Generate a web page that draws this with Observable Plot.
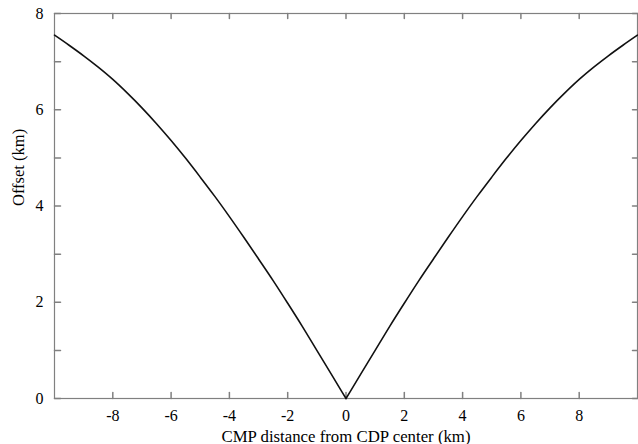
<!DOCTYPE html>
<html>
<head>
<meta charset="utf-8">
<script src="https://cdn.jsdelivr.net/npm/d3@7"></script>
<script src="https://cdn.jsdelivr.net/npm/@observablehq/plot@0.6"></script>
<style>
  html, body { margin: 0; padding: 0; background: #fff; }
</style>
</head>
<body>
<div id="chart"></div>
<script>
// CMP distance from CDP center (km)
const cmpDistance = [-10, -9.5, -9, -8.5, -8, -7.5, -7, -6.5, -6, -5.5, -5, -4.5, -4, -3.5, -3, -2.5, -2, -1.5, -1, -0.5, 0,
                     0.5, 1, 1.5, 2, 2.5, 3, 3.5, 4, 4.5, 5, 5.5, 6, 6.5, 7, 7.5, 8, 8.5, 9, 9.5, 10];
// Offset (km)
const offsetKm = [7.55, 7.34, 7.12, 6.885, 6.63, 6.345, 6.04, 5.71, 5.36, 4.99, 4.6, 4.2, 3.78, 3.345, 2.9, 2.45, 1.98, 1.5, 1.0, 0.5, 0,
                  0.5, 1.0, 1.5, 1.98, 2.45, 2.9, 3.345, 3.78, 4.2, 4.6, 4.99, 5.36, 5.71, 6.04, 6.345, 6.63, 6.885, 7.12, 7.34, 7.55];

const xTicks = [-8, -6, -4, -2, 0, 2, 4, 6, 8];
const yTicks = [0, 1, 2, 3, 4, 5, 6, 7, 8];
const yTickLabels = [0, 2, 4, 6, 8];
const xLabel = "CMP distance from CDP center (km)";
const yLabel = "Offset (km)";

// two branches sharing the vertex at 0 so the V tip stays sharp
const data = [];
cmpDistance.forEach((x, i) => {
  if (x <= 0) data.push({x, y: offsetKm[i], side: "left"});
  if (x >= 0) data.push({x, y: offsetKm[i], side: "right"});
});

const tickShape = {draw(context, l) { context.moveTo(0, 0); context.lineTo(0, -l); }};
const tickColor = "#808080";
const font = "'Liberation Serif', 'Times New Roman', serif";

const chart = Plot.plot({
  width: 638,
  height: 444,
  marginLeft: 54,
  marginRight: 1,
  marginTop: 13,
  marginBottom: 46,
  style: {fontFamily: font, fontSize: "16px", color: "#000", background: "#fff"},
  x: {domain: [-10, 10]},
  y: {domain: [0, 8]},
  marks: [
    Plot.axisX(xTicks, {tickSize: 0, tickPadding: 11, label: null, fontSize: 16, tickFormat: d => String(d).replace("−", "-")}),
    Plot.axisY(yTickLabels, {tickSize: 0, tickPadding: 11, label: null, fontSize: 16}),
    Plot.vector(xTicks, {x: d => d, y: 0, length: 6, rotate: 0, anchor: "start", shape: tickShape, stroke: tickColor}),
    Plot.vector(xTicks, {x: d => d, y: 8, length: 5, rotate: 180, anchor: "start", shape: tickShape, stroke: tickColor}),
    Plot.vector(yTicks, {x: -10, y: d => d, length: 6, rotate: 90, anchor: "start", shape: tickShape, stroke: tickColor}),
    Plot.vector(yTicks, {x: 10, y: d => d, length: 5, rotate: -90, anchor: "start", shape: tickShape, stroke: tickColor}),
    Plot.frame({stroke: tickColor, strokeWidth: 1.2}),
    Plot.line(data, {x: "x", y: "y", z: "side", stroke: "#111", strokeWidth: 1.6, curve: "monotone-x"}),
    Plot.text([xLabel], {frameAnchor: "bottom", dy: 43, lineAnchor: "bottom", fontSize: 16.8, fill: "#000"}),
    Plot.text([yLabel], {frameAnchor: "left", dx: -36, rotate: -90, lineAnchor: "middle", fontSize: 16.5, fill: "#000"})
  ]
});
document.getElementById("chart").appendChild(chart);
</script>
</body>
</html>
